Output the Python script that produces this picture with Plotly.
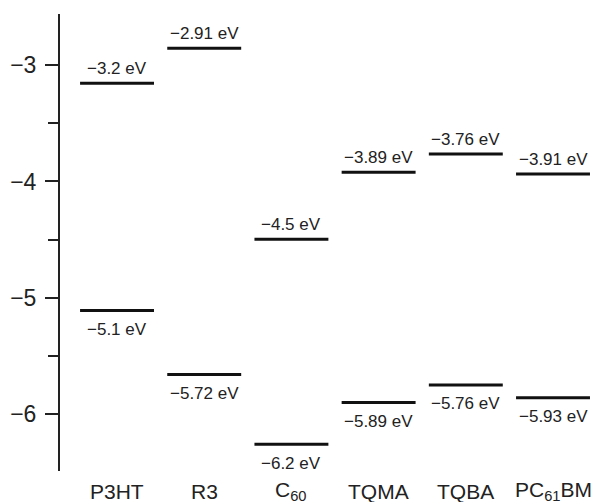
import plotly.graph_objects as go

categories = ["P3HT", "R3", "C<sub>60</sub>", "TQMA", "TQBA", "PC<sub>61</sub>BM"]
lumo_levels = [-3.155, -2.854, -4.496, -3.92, -3.765, -3.937]
homo_levels = [-5.11, -5.66, -6.26, -5.90, -5.75, -5.86]
lumo_labels = ["−3.2 eV", "−2.91 eV", "−4.5 eV", "−3.89 eV", "−3.76 eV", "−3.91 eV"]
homo_labels = ["−5.1 eV", "−5.72 eV", "−6.2 eV", "−5.89 eV", "−5.76 eV", "−5.93 eV"]

HALF = 0.424
FONT = "Liberation Sans, Arial, sans-serif"

fig = go.Figure()

def level_trace(levels):
    xs, ys = [], []
    for i, v in enumerate(levels):
        xs += [i - HALF, i + HALF, None]
        ys += [v, v, None]
    return go.Scatter(x=xs, y=ys, mode="lines", line=dict(color="#111111", width=3),
                      hoverinfo="skip", showlegend=False)

fig.add_trace(level_trace(lumo_levels))
fig.add_trace(level_trace(homo_levels))

ymin, ymax = -6.49, -2.56

annotations = []
for i, (v, t) in enumerate(zip(lumo_levels, lumo_labels)):
    annotations.append(dict(x=i, y=v, text=t, showarrow=False, yshift=15,
                            xanchor="center", yanchor="middle",
                            font=dict(family=FONT, size=17, color="#222222")))
for i, (v, t) in enumerate(zip(homo_levels, homo_labels)):
    annotations.append(dict(x=i, y=v, text=t, showarrow=False, yshift=-19,
                            xanchor="center", yanchor="middle",
                            font=dict(family=FONT, size=17, color="#222222")))
for i, c in enumerate(categories):
    annotations.append(dict(x=i, y=ymin, text=c, showarrow=False, yshift=-20,
                            xanchor="center", yanchor="middle",
                            font=dict(family=FONT, size=21, color="#222222")))

fig.update_layout(
    width=598, height=502,
    margin=dict(l=60, r=0, t=14, b=31),
    paper_bgcolor="white", plot_bgcolor="white",
    annotations=annotations,
    xaxis=dict(range=[-0.654, 5.516], visible=False, showgrid=False, zeroline=False),
    yaxis=dict(range=[ymin, ymax], tick0=-3, dtick=1, ticks="outside", ticklen=13,
               tickwidth=2, tickcolor="#222222", showline=True, linewidth=2,
               linecolor="#222222", showgrid=False, zeroline=False,
               ticklabelstandoff=4,
               tickfont=dict(family=FONT, size=23, color="#222222"),
               minor=dict(dtick=0.5, tick0=-3, ticks="outside", ticklen=10,
                          tickwidth=2, tickcolor="#222222", showgrid=False)),
)

fig.write_html("out.html")
